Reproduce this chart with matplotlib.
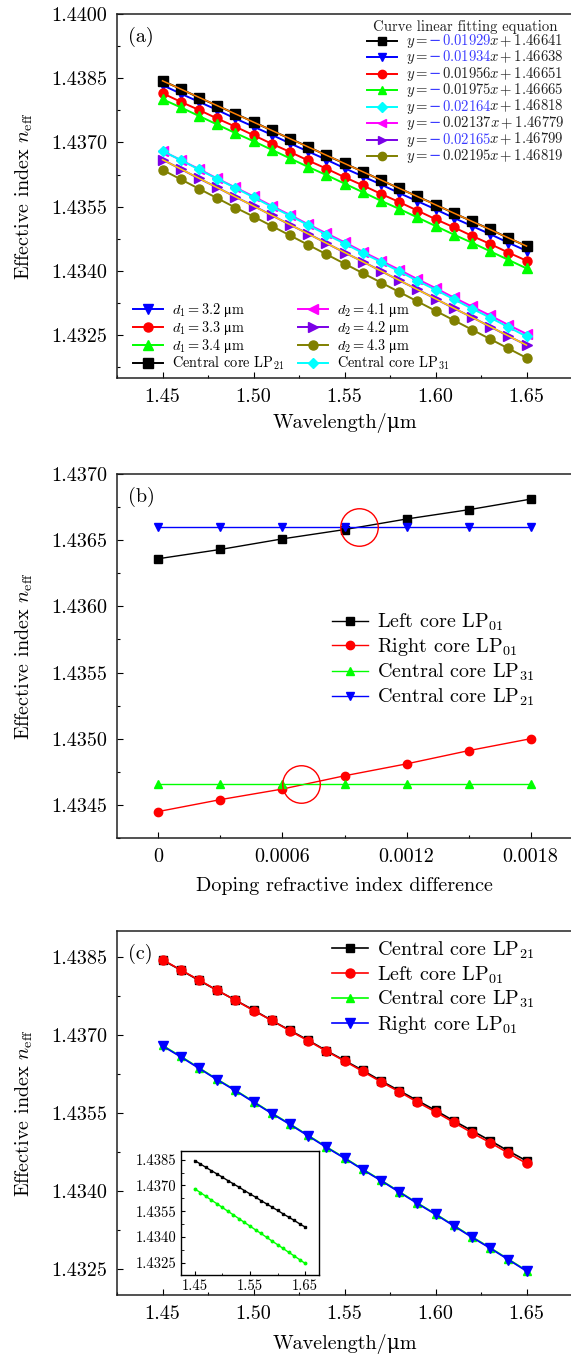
import matplotlib
matplotlib.use("Agg")
import matplotlib.pyplot as plt
import numpy as np
from matplotlib.lines import Line2D
from matplotlib.offsetbox import (DrawingArea, TextArea, HPacker, VPacker,
                                  AnchoredOffsetbox)
from matplotlib.ticker import MultipleLocator, FixedLocator, FixedFormatter

plt.rcParams["font.family"] = ["cmr10", "DejaVu Serif"]
plt.rcParams["mathtext.fontset"] = "cm"
plt.rcParams["axes.formatter.use_mathtext"] = True
plt.rcParams["axes.unicode_minus"] = False

# ---- panel (a): effective index vs wavelength ----
wavelength = [1.45, 1.46, 1.47, 1.48, 1.49, 1.50, 1.51, 1.52, 1.53, 1.54, 1.55,
              1.56, 1.57, 1.58, 1.59, 1.60, 1.61, 1.62, 1.63, 1.64, 1.65]

central_lp21 = [1.43844, 1.43825, 1.43805, 1.43786, 1.43767, 1.43748, 1.43728,
                1.43709, 1.43690, 1.43670, 1.43651, 1.43632, 1.43612, 1.43593,
                1.43574, 1.43555, 1.43535, 1.43516, 1.43497, 1.43477, 1.43458]
d1_32 = [1.43834, 1.43814, 1.43795, 1.43776, 1.43756, 1.43737, 1.43718,
         1.43698, 1.43679, 1.43660, 1.43640, 1.43621, 1.43602, 1.43582,
         1.43563, 1.43544, 1.43524, 1.43505, 1.43486, 1.43466, 1.43447]
d1_33 = [1.43815, 1.43795, 1.43776, 1.43756, 1.43737, 1.43717, 1.43697,
         1.43678, 1.43658, 1.43639, 1.43619, 1.43600, 1.43580, 1.43561,
         1.43541, 1.43521, 1.43502, 1.43482, 1.43463, 1.43443, 1.43424]
d1_34 = [1.43801, 1.43782, 1.43762, 1.43742, 1.43722, 1.43703, 1.43683,
         1.43663, 1.43643, 1.43624, 1.43604, 1.43584, 1.43564, 1.43545,
         1.43525, 1.43505, 1.43485, 1.43466, 1.43446, 1.43426, 1.43406]
central_lp31 = [1.43680, 1.43659, 1.43637, 1.43615, 1.43594, 1.43572, 1.43550,
                1.43529, 1.43507, 1.43485, 1.43464, 1.43442, 1.43421, 1.43399,
                1.43377, 1.43356, 1.43334, 1.43312, 1.43291, 1.43269, 1.43247]
d2_41 = [1.43680, 1.43659, 1.43638, 1.43616, 1.43595, 1.43574, 1.43552,
         1.43531, 1.43509, 1.43488, 1.43467, 1.43445, 1.43424, 1.43403,
         1.43381, 1.43360, 1.43338, 1.43317, 1.43296, 1.43274, 1.43253]
d2_42 = [1.43660, 1.43638, 1.43616, 1.43595, 1.43573, 1.43552, 1.43530,
         1.43508, 1.43487, 1.43465, 1.43443, 1.43422, 1.43400, 1.43378,
         1.43357, 1.43335, 1.43313, 1.43292, 1.43270, 1.43248, 1.43227]
d2_43 = [1.43636, 1.43614, 1.43592, 1.43570, 1.43548, 1.43527, 1.43505,
         1.43483, 1.43461, 1.43439, 1.43417, 1.43395, 1.43373, 1.43351,
         1.43329, 1.43307, 1.43285, 1.43263, 1.43241, 1.43219, 1.43197]

fit_slopes = ["0.01929", "0.01934", "0.01956", "0.01975",
              "0.02164", "0.02137", "0.02165", "0.02195"]
fit_intercepts = ["1.46641", "1.46638", "1.46651", "1.46665",
                  "1.46818", "1.46779", "1.46799", "1.46819"]
fit_highlight = [True, True, False, False, True, False, True, False]

# ---- panel (b): effective index vs doping difference ----
doping = [0, 0.0003, 0.0006, 0.0009, 0.0012, 0.0015, 0.0018]
left_lp01_b = [1.43636, 1.43643, 1.43651, 1.43658, 1.43666, 1.43673, 1.43681]
right_lp01_b = [1.43445, 1.43454, 1.43462, 1.43472, 1.43481, 1.43491, 1.43500]
central_lp31_b = [1.43466] * 7
central_lp21_b = [1.43660] * 7
cross_x = [0.00097, 0.00069]
cross_y = [1.43660, 1.43466]

# ---- panel (c) ----
left_lp01_c = [1.43845, 1.43825, 1.43806, 1.43786, 1.43767, 1.43747, 1.43728,
               1.43708, 1.43689, 1.43669, 1.43650, 1.43630, 1.43610, 1.43591,
               1.43571, 1.43552, 1.43532, 1.43512, 1.43493, 1.43473, 1.43453]
right_lp01_c = [1.43679, 1.43658, 1.43636, 1.43614, 1.43593, 1.43571, 1.43549,
                1.43528, 1.43506, 1.43484, 1.43463, 1.43441, 1.43420, 1.43398,
                1.43376, 1.43355, 1.43333, 1.43311, 1.43290, 1.43268, 1.43246]

BLACK, BLUE, RED, GREEN = "#000000", "#0000ff", "#ff0000", "#00ff00"
CYAN, MAGENTA, PURPLE, OLIVE = "#00ffff", "#ff00ff", "#7a00e6", "#808000"
EQ_BLUE = "#3c3cff"
TXT = "#222222"
TICK_FS = 14.5
YLABEL = r"Effective index $n_{\rm eff}$"

W, H = 571, 1358
fig = plt.figure(figsize=(W / 100, H / 100), dpi=100)


def px_axes(left, top, right, bottom):
    return fig.add_axes([left / W, 1 - bottom / H, (right - left) / W, (bottom - top) / H])


def style(ax):
    ax.tick_params(which="both", direction="in", top=False, right=False,
                   labelsize=TICK_FS, pad=7)
    ax.tick_params(which="major", length=4.5, width=0.8)
    ax.tick_params(which="minor", length=2.5, width=0.8)
    for s in ax.spines.values():
        s.set_linewidth(1.1)
        s.set_color(TXT)
    ax.set_ylabel(YLABEL, fontsize=TICK_FS, labelpad=12)


def wl_axis(ax, pad=8):
    ax.set_xlim(1.425, 1.675)
    ax.xaxis.set_major_locator(FixedLocator([1.45, 1.50, 1.55, 1.60, 1.65]))
    ax.xaxis.set_major_formatter(FixedFormatter(["1.45", "1.50", "1.55", "1.60", "1.65"]))
    ax.xaxis.set_minor_locator(MultipleLocator(0.025))
    ax.set_xlabel("Wavelength/μm", fontsize=TICK_FS, labelpad=pad)


def ytick_fmt(ax, vals):
    ax.yaxis.set_major_locator(FixedLocator(vals))
    ax.yaxis.set_major_formatter(FixedFormatter(["%.4f" % v for v in vals]))


# ===== (a) =====
ax = px_axes(117, 14, 572, 378)
style(ax)
wl_axis(ax, pad=5)
ax.set_ylim(1.4315, 1.4400)
ytick_fmt(ax, [1.4325, 1.4340, 1.4355, 1.4370, 1.4385, 1.4400])
ax.yaxis.set_minor_locator(MultipleLocator(0.00075))

series_a = [
    (d1_32, BLUE, "v", r"$d_1=3.2\ \mathrm{μm}$"),
    (d1_33, RED, "o", r"$d_1=3.3\ \mathrm{μm}$"),
    (d1_34, GREEN, "^", r"$d_1=3.4\ \mathrm{μm}$"),
    (central_lp21, BLACK, "s", r"Central core LP$_{21}$"),
    (d2_41, MAGENTA, "<", r"$d_2=4.1\ \mathrm{μm}$"),
    (d2_42, PURPLE, ">", r"$d_2=4.2\ \mathrm{μm}$"),
    (d2_43, OLIVE, "o", r"$d_2=4.3\ \mathrm{μm}$"),
    (central_lp31, CYAN, "D", r"Central core LP$_{31}$"),
]
handles = []
for vals, col, mk, lab in series_a:
    ms = 5 if mk == "D" else 6.5
    h, = ax.plot(wavelength, vals, color=col, marker=mk, ms=ms, lw=1.4, label=lab)
    handles.append(h)

# linear fits drawn over two series
for vals, col in [(central_lp21, "#ff8000"), (d2_42, "#ffd400")]:
    k, b = np.polyfit(wavelength, vals, 1)
    xs = np.array([wavelength[0], wavelength[-1]])
    ax.plot(xs, k * xs + b, color=col, lw=1.1, zorder=5)

ax.legend(handles=handles, loc="lower left", ncol=2, frameon=False,
          fontsize=10.3, handlelength=2.1, labelspacing=0.0,
          columnspacing=1.0, handletextpad=0.6, borderpad=0,
          borderaxespad=0, bbox_to_anchor=(0.035, 0.016))

# fitting-equation legend with partly coloured labels
eq_order = [(BLACK, "s"), (BLUE, "v"), (RED, "o"), (GREEN, "^"),
            (CYAN, "D"), (MAGENTA, "<"), (PURPLE, ">"), (OLIVE, "o")]
EQ_FS = 10.6
rows = []
for (col, mk), sl, ic, hl in zip(eq_order, fit_slopes, fit_intercepts, fit_highlight):
    da = DrawingArea(22, 8, 0, 0)
    da.add_artist(Line2D([0, 22], [4, 4], color=col, lw=1.4))
    da.add_artist(Line2D([11], [4], color=col, marker=mk,
                         ms=5 if mk == "D" else 6))
    tp = dict(fontsize=EQ_FS, color=TXT)
    head = HPacker(children=[TextArea(r"$y=$", textprops=tp),
                             TextArea("\u2212", textprops=dict(tp, color=EQ_BLUE)),
                             TextArea(r"$%s$" % sl,
                                      textprops=dict(tp, color=EQ_BLUE if hl else TXT))],
                   sep=0.5, pad=0, align="baseline")
    txt = HPacker(children=[head, TextArea(r"$x+%s$" % ic, textprops=tp)],
                  sep=-1.5, pad=0, align="baseline")
    rows.append(HPacker(children=[da, txt], sep=6, pad=0, align="center"))
title = TextArea("Curve linear fitting equation", textprops=dict(fontsize=EQ_FS, color=TXT))
box = VPacker(children=[title, VPacker(children=rows, sep=-1, pad=0, align="left")],
              sep=-1, pad=0, align="center")
anch = AnchoredOffsetbox(loc="upper right", child=box, frameon=False,
                         bbox_to_anchor=(0.995, 1.0), bbox_transform=ax.transAxes,
                         borderpad=0)
ax.add_artist(anch)
ax.text(0.025, 0.965, "(a)", transform=ax.transAxes, fontsize=TICK_FS, va="top")

# ===== (b) =====
ax = px_axes(117, 474, 572, 838)
style(ax)
ax.set_xlim(-0.0002, 0.002)
ax.xaxis.set_major_locator(FixedLocator([0, 0.0006, 0.0012, 0.0018]))
ax.xaxis.set_major_formatter(FixedFormatter(["0", "0.0006", "0.0012", "0.0018"]))
ax.xaxis.set_minor_locator(MultipleLocator(0.0003))
ax.set_xlabel("Doping refractive index difference", fontsize=TICK_FS, labelpad=8)
ax.set_ylim(1.43425, 1.4370)
ytick_fmt(ax, [1.4345, 1.4350, 1.4355, 1.4360, 1.4365, 1.4370])
ax.yaxis.set_minor_locator(MultipleLocator(0.00025))

ax.plot(doping, left_lp01_b, color=BLACK, marker="s", ms=5.5, lw=1, label=r"Left core LP$_{01}$")
ax.plot(doping, right_lp01_b, color=RED, marker="o", ms=6, lw=1, label=r"Right core LP$_{01}$")
ax.plot(doping, central_lp31_b, color=GREEN, marker="^", ms=6, lw=1, label=r"Central core LP$_{31}$")
ax.plot(doping, central_lp21_b, color=BLUE, marker="v", ms=6, lw=1, label=r"Central core LP$_{21}$")
ax.plot(cross_x, cross_y, ls="none", marker="o", ms=27, mfc="none", mec=RED, mew=1)
ax.legend(loc="upper left", frameon=False, fontsize=TICK_FS, handlelength=1.8,
          labelspacing=0.17, handletextpad=0.45, borderpad=0, borderaxespad=0,
          bbox_to_anchor=(0.472, 0.622))
ax.text(0.025, 0.965, "(b)", transform=ax.transAxes, fontsize=TICK_FS, va="top")

# ===== (c) =====
ax = px_axes(117, 931, 572, 1295)
style(ax)
wl_axis(ax)
ax.set_ylim(1.4320, 1.4390)
ytick_fmt(ax, [1.4325, 1.4340, 1.4355, 1.4370, 1.4385])
ax.yaxis.set_minor_locator(MultipleLocator(0.00075))

ax.plot(wavelength, central_lp21, color=BLACK, marker="s", ms=6, lw=1.2, label=r"Central core LP$_{21}$")
ax.plot(wavelength, left_lp01_c, color=RED, marker="o", ms=6.5, lw=1.2, label=r"Left core LP$_{01}$")
ax.plot(wavelength, central_lp31, color=GREEN, marker="^", ms=6, lw=1.2, label=r"Central core LP$_{31}$")
ax.plot(wavelength, right_lp01_c, color=BLUE, marker="v", ms=6.5, lw=1.2, label=r"Right core LP$_{01}$")
ax.legend(loc="upper left", frameon=False, fontsize=TICK_FS, handlelength=1.8,
          labelspacing=0.17, handletextpad=0.45, borderpad=0, borderaxespad=0,
          bbox_to_anchor=(0.472, 0.977))
ax.text(0.025, 0.965, "(c)", transform=ax.transAxes, fontsize=TICK_FS, va="top")

# inset
ins = px_axes(181, 1151, 319, 1275)
ins.plot(wavelength, central_lp21, color=BLACK, marker="s", ms=1.8, lw=1)
ins.plot(wavelength, central_lp31, color=GREEN, marker="o", ms=1.8, lw=1)
ins.set_xlim(1.425, 1.675)
ins.set_ylim(1.4318, 1.4390)
ins.xaxis.set_major_locator(FixedLocator([1.45, 1.55, 1.65]))
ins.xaxis.set_major_formatter(FixedFormatter(["1.45", "1.55", "1.65"]))
ins.xaxis.set_minor_locator(MultipleLocator(0.05))
ytick_fmt(ins, [1.4325, 1.4340, 1.4355, 1.4370, 1.4385])
ins.yaxis.set_minor_locator(MultipleLocator(0.00075))
ins.tick_params(which="both", direction="in", top=False, right=False, labelsize=10.5, pad=3)
ins.tick_params(which="major", length=3)
ins.tick_params(which="minor", length=1.8)
for s in ins.spines.values():
    s.set_linewidth(1)

fig.savefig("out.png", dpi=100)
